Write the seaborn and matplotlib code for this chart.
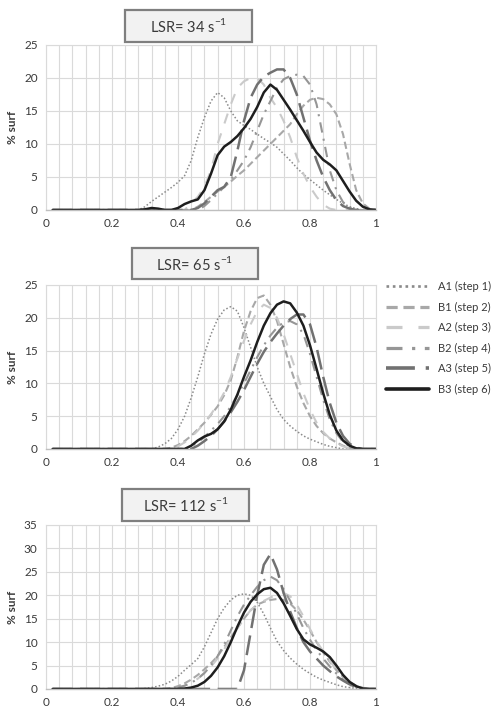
import numpy as np
import pandas as pd
import matplotlib
matplotlib.use('Agg')
import matplotlib.pyplot as plt
from matplotlib.patches import Rectangle
from matplotlib.lines import Line2D
import seaborn as sns

### DATA ###
# x grid: first category then 0.28 -> 1.00 by 0.02
x_vals = [0.02] + [round(0.28 + 0.02 * i, 2) for i in range(37)]

series_names = ['A1 (step 1)', 'B1 (step 2)', 'A2 (step 3)', 'B2 (step 4)', 'A3 (step 5)', 'B3 (step 6)']
panel_titles = [r'LSR= 34 s$^{\mathregular{-1}}$', r'LSR= 65 s$^{\mathregular{-1}}$',
                r'LSR= 112 s$^{\mathregular{-1}}$']
y_max = [25, 25, 35]

## LSR = 34
p1_a1 = [0, 0, 0.5, 1.3, 2.0, 2.7, 3.4, 4.2, 5.2, 7.5, 11.0, 14.0, 16.5, 17.8, 17.0, 15.0, 13.5, 12.8, 12.2,
         11.5, 10.8, 10.2, 9.5, 8.5, 7.5, 6.4, 5.4, 4.6, 3.8, 3.0, 2.3, 1.6, 1.0, 0.5, 0.2, 0, 0, 0]
p1_b1 = [0, 0, 0, 0, 0, 0, 0, 0, 0, 0, 0.5, 1.2, 2.0, 2.8, 3.5, 4.3, 5.2, 6.0, 7.0, 8.0, 9.0, 10.0, 11.0,
         12.0, 13.0, 14.5, 15.8, 16.7, 17.0, 16.8, 16.0, 14.5, 11.5, 7.0, 3.0, 1.0, 0.2, 0]
p1_a2 = [0, 0, 0, 0, 0, 0, 0, 0, 0, 1.0, 2.0, 3.5, 6.0, 10.0, 13.0, 16.0, 18.5, 19.5, 20.0, 20.0, 19.0,
         17.0, 15.5, 13.5, 11.0, 8.0, 5.5, 3.5, 2.0, 0.8, 0.2, 0, 0, 0, 0, 0, 0, 0]
p1_b2 = [0, 0, 0, 0, 0, 0, 0, 0, 0, 0, 0, 0.6, 1.5, 2.5, 3.5, 4.6, 6.0, 7.5, 9.5, 12.0, 14.5, 16.5, 18.5,
         19.8, 20.3, 20.5, 20.3, 19.0, 16.0, 11.0, 6.0, 3.0, 1.2, 0.4, 0, 0, 0, 0]
p1_a3 = [0, 0, 0, 0, 0, 0, 0, 0, 0, 0, 0.3, 1.0, 2.0, 3.0, 3.5, 5.0, 9.0, 13.5, 17.0, 19.0, 20.2, 20.8,
         21.3, 21.3, 20.0, 17.5, 14.0, 10.5, 7.5, 5.0, 3.0, 1.5, 0.6, 0.2, 0, 0, 0, 0]
p1_b3 = [0, 0, 0.1, 0.3, 0.2, 0, 0, 0.3, 0.9, 1.3, 1.6, 3.0, 5.5, 8.3, 9.6, 10.3, 11.2, 12.4, 13.8, 15.6,
         17.8, 19.0, 18.2, 16.7, 15.2, 13.6, 12.0, 10.3, 8.7, 7.6, 6.9, 6.0, 4.4, 2.8, 1.4, 0.5, 0.1, 0]

## LSR = 65
p2_a1 = [0, 0, 0, 0, 0.3, 0.8, 1.6, 3.0, 5.0, 7.8, 11.0, 14.5, 17.5, 19.8, 21.2, 21.7, 21.0, 18.5, 15.5,
         12.5, 10.0, 8.0, 6.0, 4.5, 3.5, 2.7, 2.0, 1.5, 1.1, 0.7, 0.4, 0.2, 0, 0, 0, 0, 0, 0]
p2_b1 = [0, 0, 0, 0, 0, 0, 0.2, 0.6, 1.2, 2.0, 3.0, 4.0, 5.2, 6.5, 8.2, 10.5, 14.0, 18.0, 21.0, 23.0,
         23.4, 22.0, 19.5, 16.0, 12.5, 9.5, 7.0, 5.0, 3.5, 2.4, 1.6, 1.0, 0.5, 0.2, 0, 0, 0, 0]
p2_a2 = [0, 0, 0, 0, 0, 0, 0, 0.4, 1.0, 1.8, 2.8, 4.0, 5.3, 6.8, 8.6, 11.0, 13.8, 16.5, 19.0, 21.0, 22.0,
         21.5, 20.0, 17.5, 14.5, 11.5, 8.5, 6.0, 4.0, 2.6, 1.6, 0.9, 0.4, 0.1, 0, 0, 0, 0]
p2_b2 = [0, 0, 0, 0, 0, 0, 0, 0, 0, 0.4, 1.0, 1.8, 2.8, 3.8, 5.0, 6.5, 8.2, 10.0, 12.0, 14.0, 15.8, 17.3,
         18.5, 19.3, 19.5, 19.0, 17.5, 14.5, 11.0, 7.5, 4.5, 2.4, 1.1, 0.4, 0.1, 0, 0, 0]
p2_a3 = [0, 0, 0, 0, 0, 0, 0, 0, 0, 0, 0.5, 1.2, 2.0, 3.0, 4.2, 5.6, 7.2, 9.0, 11.0, 13.0, 14.8, 16.3,
         17.6, 18.8, 19.8, 20.5, 20.5, 19.0, 15.5, 11.0, 7.0, 4.0, 2.0, 0.8, 0.2, 0, 0, 0]
p2_b3 = [0, 0, 0, 0, 0, 0, 0, 0, 0, 0.5, 1.3, 1.9, 2.3, 3.0, 4.2, 6.0, 8.3, 11.0, 13.5, 16.3, 18.8, 20.7,
         22.0, 22.5, 22.2, 20.8, 18.8, 15.8, 12.2, 8.5, 5.2, 2.8, 1.3, 0.5, 0.1, 0, 0, 0]

## LSR = 112
p3_a1 = [0, 0, 0.1, 0.3, 0.6, 1.0, 1.7, 2.7, 4.0, 5.2, 6.5, 9.0, 12.0, 15.0, 17.3, 19.0, 20.0, 20.3, 20.0,
         18.5, 16.0, 13.0, 10.2, 8.2, 6.6, 5.3, 4.2, 3.3, 2.5, 1.9, 1.4, 0.9, 0.5, 0.3, 0.1, 0, 0, 0]
p3_b1 = [0, 0, 0, 0, 0, 0, 0.2, 0.6, 1.2, 2.0, 3.0, 4.2, 5.5, 7.0, 9.0, 11.0, 13.0, 15.0, 16.8, 18.0, 18.6,
         19.0, 19.2, 19.0, 18.2, 16.8, 14.8, 12.5, 10.0, 7.8, 5.8, 4.0, 2.6, 1.5, 0.7, 0.2, 0, 0]
p3_a2 = [0, 0, 0, 0, 0, 0, 0, 0.3, 0.7, 1.3, 2.2, 3.4, 4.8, 6.5, 8.5, 10.8, 13.0, 15.0, 16.8, 18.0, 18.8,
         19.5, 20.2, 20.5, 19.8, 18.0, 15.5, 12.8, 10.2, 8.0, 6.0, 4.2, 2.8, 1.6, 0.8, 0.3, 0, 0]
p3_b2 = [0, 0, 0, 0, 0, 0, 0, 0.3, 0.7, 1.3, 2.2, 3.4, 5.0, 7.0, 9.5, 12.5, 15.5, 18.0, 20.0, 21.8, 23.2,
         24.0, 23.2, 21.3, 18.8, 16.0, 13.0, 10.5, 8.3, 6.5, 4.8, 3.3, 2.0, 1.0, 0.4, 0, 0, 0]
p3_a3 = [0, 0, 0, 0, 0, 0, 0, 0, 0, 0, 0, 0, 0, 0, 0, 0, 0, 4.0, 12.0, 20.0, 26.5, 28.8, 25.5, 20.5, 16.5,
         13.0, 10.0, 8.0, 6.5, 5.0, 3.8, 2.7, 1.8, 1.0, 0.4, 0, 0, 0]
p3_b3 = [0, 0, 0, 0, 0, 0, 0, 0, 0.1, 0.3, 0.7, 1.5, 2.8, 4.6, 7.0, 10.0, 13.3, 16.3, 18.6, 20.2, 21.3,
         21.6, 20.5, 18.3, 15.6, 12.8, 10.6, 9.5, 8.8, 8.0, 6.8, 5.0, 3.0, 1.5, 0.6, 0.1, 0, 0]

panels = [
    [p1_a1, p1_b1, p1_a2, p1_b2, p1_a3, p1_b3],
    [p2_a1, p2_b1, p2_a2, p2_b2, p2_a3, p2_b3],
    [p3_a1, p3_b1, p3_a2, p3_b2, p3_a3, p3_b3],
]

### STYLES ###
palette = dict(zip(series_names, ['#8a8a8a', '#a8a8a8', '#cacaca', '#969696', '#717171', '#1e1e1e']))
dashes = dict(zip(series_names, [(1, 1.4), (3.5, 1.8), (5, 5), (5, 3, 1, 3), (8, 3), '']))
widths = dict(zip(series_names, [1.1, 1.5, 1.5, 1.5, 1.8, 1.8]))

sns.set_style('whitegrid')
plt.rcParams['font.family'] = ['Lato', 'DejaVu Sans']

fig = plt.figure(figsize=(4.99, 7.13), dpi=100)

# axes rectangles (left, bottom, width, height) in figure fraction
ax_rects = [(0.0922, 0.7055, 0.6613, 0.2314),
            (0.0922, 0.3703, 0.6613, 0.2300),
            (0.0922, 0.0337, 0.6613, 0.2300)]
# title boxes in pixels (x0, y0_top, w, h)
title_boxes = [(125, 10, 127, 32), (132, 248, 126, 31), (122, 489, 127, 32)]

W, H = 499, 713
for i, vals in enumerate(panels):
    ax = fig.add_axes(ax_rects[i])
    df = pd.DataFrame({
        'x': np.tile(x_vals, len(series_names)),
        'surf': np.concatenate(vals),
        'series': np.repeat(series_names, len(x_vals)),
    })
    sns.lineplot(data=df, x='x', y='surf', hue='series', style='series', size='series',
                 hue_order=series_names, style_order=series_names, size_order=series_names,
                 palette=palette, dashes=dashes, sizes=widths,
                 estimator=None, sort=False, legend=False, ax=ax)

    ax.set_xlim(0, 1)
    ax.set_ylim(0, y_max[i])
    ax.set_xticks(np.arange(0, 1.01, 0.2))
    ax.set_xticklabels(['0', '0.2', '0.4', '0.6', '0.8', '1'])
    ax.set_xticks(np.arange(0, 1.001, 0.04), minor=True)
    ax.set_yticks(np.arange(0, y_max[i] + 1, 5))
    ax.grid(True, which='both', axis='x', color='#dadada', linewidth=0.8)
    ax.grid(True, which='major', axis='y', color='#dadada', linewidth=0.8)
    ax.tick_params(which='both', length=0, labelsize=8.5, labelcolor='#3a3a3a', pad=6)
    ax.set_xlabel('')
    ax.set_ylabel('% surf', fontsize=8.5, fontweight='bold', color='#3a3a3a', labelpad=4)
    for side in ['top', 'right', 'left']:
        ax.spines[side].set_color('#dadada')
        ax.spines[side].set_linewidth(0.8)
    ax.spines['bottom'].set_color('#bfbfbf')
    ax.spines['bottom'].set_linewidth(1.0)

    # title box
    bx, by, bw, bh = title_boxes[i]
    fig.add_artist(Rectangle((bx / W, 1 - (by + bh) / H), bw / W, bh / H, transform=fig.transFigure,
                             facecolor='#f2f2f2', edgecolor='#7f7f7f', linewidth=1.6))
    fig.text((bx + bw / 2) / W, 1 - (by + bh / 2) / H, panel_titles[i], ha='center', va='center',
             fontsize=10.5, color='#3a3a3a')

# legend
handles = []
for s in series_names:
    h = Line2D([0], [0], color=palette[s], linewidth=widths[s] + 0.8)
    if dashes[s]:
        h.set_dashes(dashes[s])
    handles.append(h)
fig.legend(handles, series_names, loc='upper left', bbox_to_anchor=(386 / W, 1 - 281 / H),
           frameon=False, fontsize=8, handlelength=3.9, handletextpad=0.8, labelspacing=0.85,
           borderpad=0, borderaxespad=0, labelcolor='#3a3a3a')

fig.savefig('out.png', dpi=100)
